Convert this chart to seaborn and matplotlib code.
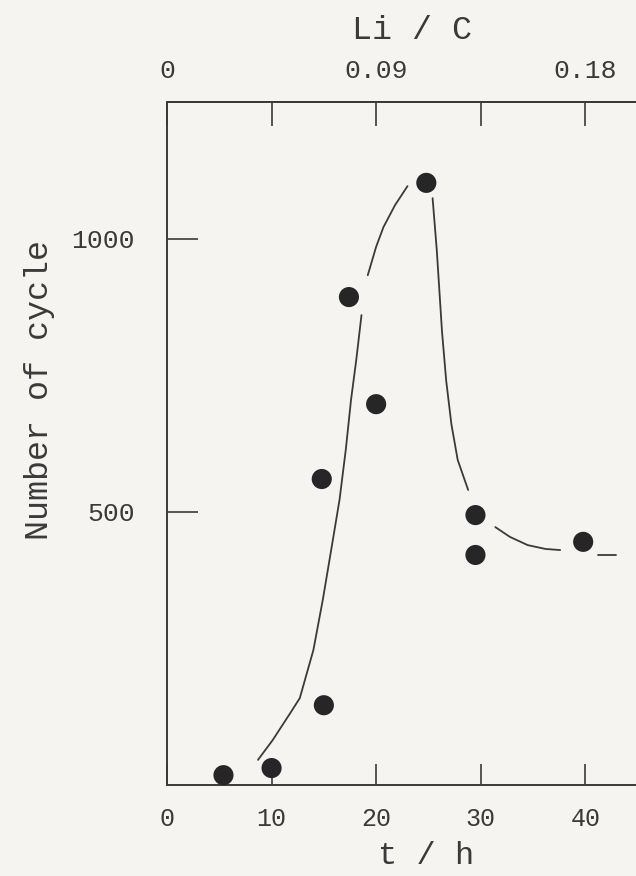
import numpy as np
import pandas as pd
import seaborn as sns
import matplotlib.pyplot as plt

# measured points (t in h, number of cycles)
t_obs = [5.4, 10.0, 15.0, 14.8, 17.4, 20.0, 24.8, 29.5, 29.5, 39.8]
n_obs = [18, 31, 146, 560, 893, 697, 1102, 494, 421, 445]

# hand drawn guide curve, broken into the pieces seen in the figure
curve_t = [8.7, 10.1, 11.8, 12.7, 14.0, 14.9, 15.7, 16.5, 17.1, 17.6, 18.1, 18.6,
           19.2, 20.0, 20.7, 21.8, 23.0,
           25.4, 25.8, 26.3, 26.7, 27.2, 27.8, 28.8,
           31.4, 32.8, 34.5, 36.2, 37.6,
           41.2, 42.9]
curve_n = [46, 82, 132, 159, 247, 339, 430, 522, 614, 705, 778, 860,
           933, 985, 1021, 1061, 1096,
           1074, 979, 830, 740, 660, 595, 540,
           472, 454, 439, 432, 430,
           421, 421]
curve_seg = [1] * 12 + [2] * 5 + [3] * 7 + [4] * 5 + [5] * 2

# top axis: Li / C ratio vs time
li_per_h = 0.0045
top_major = [0, 0.09, 0.18]
top_minor = [0.045, 0.135]
top_labels = ['0', '0.09', '0.18']

curve = pd.DataFrame(dict(t=curve_t, n=curve_n, seg=curve_seg))

sns.set_style('ticks')
plt.rcParams['font.family'] = ['Liberation Mono', 'DejaVu Sans']
bg = '#f6f4f0'
ink = '#3a3a3a'

fig = plt.figure(figsize=(6.36, 8.76), dpi=100, facecolor=bg)
ax = fig.add_axes([167/636, 1 - 785/876, 481/636, 683/876])
ax.set_facecolor(bg)

sns.lineplot(data=curve, x='t', y='n', units='seg', estimator=None, sort=False,
             color=ink, lw=1.3, ax=ax, legend=False)
sns.scatterplot(x=t_obs, y=n_obs, s=210, color='#262626', edgecolor='none',
                ax=ax, zorder=3, clip_on=False)

ax.set_xlim(0, 46)
ax.set_ylim(0, 1250)
ax.set_xlabel('')
ax.set_ylabel('')
ax.set_xticks([0, 10, 20, 30, 40])
ax.set_yticks([500, 1000])
for s in ['left', 'bottom', 'top']:
    ax.spines[s].set_color(ink)
    ax.spines[s].set_linewidth(1.4)
ax.spines['right'].set_visible(False)
ax.tick_params(direction='in', width=1.2, color=ink, labelcolor=ink)
ax.tick_params(axis='x', length=15, pad=16, labelsize=18)
ax.tick_params(axis='y', length=22, pad=23, labelsize=19)

sec = ax.secondary_xaxis('top', functions=(lambda t: t * li_per_h, lambda r: r / li_per_h))
sec.set_xticks(top_major, labels=top_labels)
sec.set_xticks(top_minor, minor=True)
sec.tick_params(which='both', direction='in', length=17, width=1.2,
                color=ink, labelcolor=ink, pad=14, labelsize=19)
sec.spines['top'].set_color(ink)
sec.spines['top'].set_linewidth(1.4)

ax.text(-0.266, 0.578, 'Number of cycle', transform=ax.transAxes, rotation=90,
        ha='center', va='center', fontsize=24, color=ink)
ax.text(0.538, -0.104, 't / h', transform=ax.transAxes,
        ha='center', va='center', fontsize=23, color=ink)
ax.text(0.509, 1.105, 'Li / C', transform=ax.transAxes,
        ha='center', va='center', fontsize=24, color=ink)

plt.savefig('out.png', dpi=100, facecolor=bg)
